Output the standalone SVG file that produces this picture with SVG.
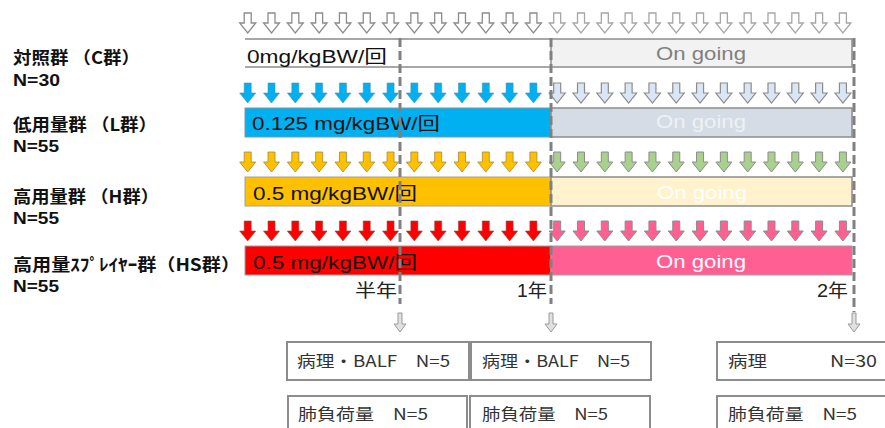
<svg xmlns="http://www.w3.org/2000/svg" xmlns:xlink="http://www.w3.org/1999/xlink" width="885" height="428" viewBox="0 0 885 428">
<style>
.lbl{font-family:"Noto Sans CJK JP","Liberation Sans",sans-serif;font-weight:bold;font-size:17px;fill:#111}
.nl{font-family:"Liberation Sans",sans-serif;font-weight:bold;font-size:17px;fill:#111}
.bt{font-family:"Liberation Sans","Noto Sans CJK JP",sans-serif;font-size:18px;fill:#111}
.og{font-family:"Liberation Sans",sans-serif;font-size:18px;text-anchor:middle}
.yr{font-family:"Liberation Sans","Noto Sans CJK JP",sans-serif;font-size:18px;fill:#222}
.bx{fill:#fff;stroke:#8c8c8c;stroke-width:2}
.btx{font-family:"Noto Sans CJK JP","Liberation Sans",sans-serif;font-size:16px;fill:#333}
.dash{stroke:#808080;stroke-width:3;stroke-dasharray:9 4;fill:none}
.bar{stroke:#8c8c8c;stroke-width:1.5}
.hol{fill:#fff;stroke:#8c8c8c;stroke-width:1.3}
.hol2{fill:#fff;stroke:#a6a6a6;stroke-width:1.3}
.blu{fill:#00b0f0;stroke:#4a90b0;stroke-width:0.6}
.lblu{fill:#dae6f5;stroke:#8c8c8c;stroke-width:1.2}
.org{fill:#ffc000;stroke:#a08a40;stroke-width:0.8}
.grn{fill:#a9d18e;stroke:#8c8c8c;stroke-width:1}
.red{fill:#ff0000;stroke:#a04040;stroke-width:0.6}
.pnk{fill:#ff5f93;stroke:#8c8c8c;stroke-width:1}
.sm{fill:#e0e0e0;stroke:#999;stroke-width:1}
</style>
<defs>
<path id="arr" d="M-3.5,0 H3.5 V10 H8 L0,20 L-8,10 H-3.5 Z"/>
<g id="a13">
<use href="#arr" x="0"/><use href="#arr" x="23.81"/><use href="#arr" x="47.62"/><use href="#arr" x="71.43"/><use href="#arr" x="95.24"/><use href="#arr" x="119.05"/><use href="#arr" x="142.86"/><use href="#arr" x="166.67"/><use href="#arr" x="190.48"/><use href="#arr" x="214.29"/><use href="#arr" x="238.1"/><use href="#arr" x="261.91"/><use href="#arr" x="285.72"/>
</g>
<path id="sarr" d="M-2,0 H2 V11 H6 L0,19 L-6,11 H-2 Z"/>
</defs>

<g id="labels">
<text class="lbl" x="13" y="64" textLength="127" lengthAdjust="spacingAndGlyphs">対照群 （C群）</text>
<text class="nl" x="13" y="86" textLength="47" lengthAdjust="spacingAndGlyphs">N=30</text>
<text class="lbl" x="13" y="131" textLength="144" lengthAdjust="spacingAndGlyphs">低用量群 （L群）</text>
<text class="nl" x="13" y="152" textLength="46" lengthAdjust="spacingAndGlyphs">N=55</text>
<text class="lbl" x="13" y="203" textLength="146" lengthAdjust="spacingAndGlyphs">高用量群 （H群）</text>
<text class="nl" x="13" y="224" textLength="46" lengthAdjust="spacingAndGlyphs">N=55</text>
<text class="lbl" x="13" y="271" textLength="227" lengthAdjust="spacingAndGlyphs">高用量ｽﾌﾟﾚｲﾔｰ群（HS群）</text>
<text class="nl" x="13" y="292" textLength="46" lengthAdjust="spacingAndGlyphs">N=55</text>
</g>

<g id="arrows">
<use href="#a13" x="247.7" y="13" class="hol"/>
<use href="#a13" x="557.2" y="13" class="hol2"/>
<use href="#a13" x="247.7" y="83" class="blu"/>
<use href="#a13" x="557.2" y="83" class="lblu"/>
<use href="#a13" x="247.7" y="152" class="org"/>
<use href="#a13" x="557.2" y="152" class="grn"/>
<use href="#a13" x="247.7" y="221" class="red"/>
<use href="#a13" x="557.2" y="221" class="pnk"/>
</g>

<g id="row-c">
<path d="M245,39 H551 M245,67 H551" stroke="#8c8c8c" stroke-width="1.5" fill="none"/>
<rect class="bar" x="551" y="39" width="301" height="28" fill="#f2f2f2"/>
<text class="bt" x="247" y="63" textLength="140" lengthAdjust="spacingAndGlyphs">0mg/kgBW/回</text>
<text class="og" x="701" y="60" fill="#808080" textLength="90" lengthAdjust="spacingAndGlyphs">On going</text>
</g>
<g id="row-l">
<rect x="245" y="108" width="306" height="29" fill="#00b0f0" stroke="#7a9aaa" stroke-width="1"/>
<rect class="bar" x="551" y="108" width="301" height="29" fill="#d6dce5"/>
<text class="bt" x="252" y="130" textLength="188" lengthAdjust="spacingAndGlyphs">0.125 mg/kgBW/回</text>
<text class="og" x="701" y="128" fill="#eef1f6" textLength="90" lengthAdjust="spacingAndGlyphs">On going</text>
</g>
<g id="row-h">
<rect x="245" y="177" width="306" height="29" fill="#ffc000" stroke="#a0a0a0" stroke-width="1"/>
<rect class="bar" x="551" y="177" width="301" height="29" fill="#fff2cc"/>
<text class="bt" x="253" y="200" textLength="164" lengthAdjust="spacingAndGlyphs">0.5 mg/kgBW/回</text>
<text class="og" x="702" y="199" fill="#ffffff" textLength="90" lengthAdjust="spacingAndGlyphs">On going</text>
</g>
<g id="row-hs">
<rect x="245" y="246" width="306" height="29" fill="#ff0000" stroke="#a0a0a0" stroke-width="1"/>
<rect x="551" y="246" width="301" height="29" fill="#ff5f93" stroke="#a0a0a0" stroke-width="1"/>
<text class="bt" x="253" y="269" textLength="164" lengthAdjust="spacingAndGlyphs">0.5 mg/kgBW/回</text>
<text class="og" x="701" y="268" fill="#ffffff" textLength="90" lengthAdjust="spacingAndGlyphs">On going</text>
</g>

<g id="connectors">
<line class="dash" x1="400" y1="38" x2="400" y2="304"/>
<line class="dash" x1="551" y1="38" x2="551" y2="304"/>
<line class="dash" x1="854" y1="38" x2="854" y2="312"/>
<use href="#sarr" x="400" y="313" class="sm"/>
<use href="#sarr" x="551" y="313" class="sm"/>
<use href="#sarr" x="854" y="313" class="sm"/>
</g>

<g id="timeline">
<text class="yr" x="355" y="297" textLength="42" lengthAdjust="spacingAndGlyphs">半年</text>
<text class="yr" x="517" y="297" textLength="30" lengthAdjust="spacingAndGlyphs">1年</text>
<text class="yr" x="817" y="297" textLength="31" lengthAdjust="spacingAndGlyphs">2年</text>
</g>

<g id="box-half-1">
<rect class="bx" x="287" y="342" width="182" height="38"/>
<text class="btx" x="297" y="367" textLength="153" lengthAdjust="spacingAndGlyphs">病理・BALF　N=5</text>
</g>
<g id="box-1y-1">
<rect class="bx" x="471" y="342" width="180" height="38"/>
<text class="btx" x="482" y="367" textLength="148" lengthAdjust="spacingAndGlyphs">病理・BALF　N=5</text>
</g>
<g id="box-2y-1">
<rect class="bx" x="717" y="342" width="180" height="38"/>
<text class="btx" x="728" y="367" textLength="39" lengthAdjust="spacingAndGlyphs">病理</text>
<text class="btx" x="830" y="367" textLength="47" lengthAdjust="spacingAndGlyphs">N=30</text>
</g>
<g id="box-half-2">
<rect class="bx" x="288" y="396" width="179" height="40"/>
<text class="btx" x="298" y="420" textLength="130" lengthAdjust="spacingAndGlyphs">肺負荷量　N=5</text>
</g>
<g id="box-1y-2">
<rect class="bx" x="470" y="396" width="180" height="40"/>
<text class="btx" x="482" y="420" textLength="126" lengthAdjust="spacingAndGlyphs">肺負荷量　N=5</text>
</g>
<g id="box-2y-2">
<rect class="bx" x="717" y="396" width="180" height="40"/>
<text class="btx" x="728" y="420" textLength="129" lengthAdjust="spacingAndGlyphs">肺負荷量　N=5</text>
</g>
</svg>
